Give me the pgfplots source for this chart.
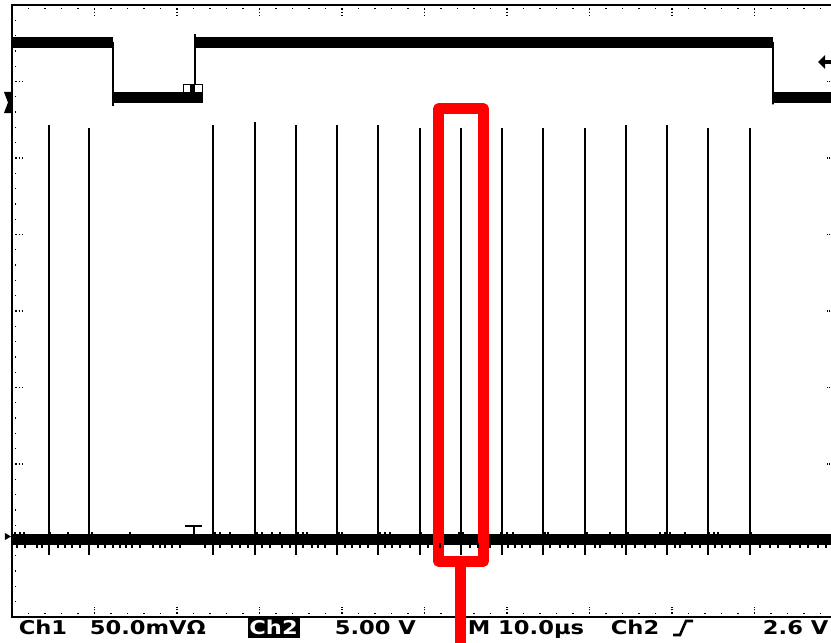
\documentclass[border=0pt]{standalone}
\usepackage{pgfplots}
\pgfplotsset{compat=1.18}
\usepackage{pgfplotstable}
\usepackage{graphicx}
\usepackage{fontspec}
\setmainfont{DejaVu Sans}
\definecolor{scopeRed}{RGB}{255,0,0}
\newcommand\scopefont{\fontsize{19}{22}\selectfont\bfseries}
\newcommand\scopetext[1]{\scalebox{1.19}[1]{\scopefont #1}}

% time in us (10 us/div), vertical in divisions (8 div screen)
% Ch2 logic levels, one row per level change
\pgfplotstableread{
t v
0 7.51
12.24 6.79
22.18 7.51
92.24 6.79
100 6.79
}\chtwo

% Ch2 edges with their small overshoots
\pgfplotstableread{
t v
0 7.51
12.24 7.51
12.24 6.68
12.24 6.79
22.18 6.79
22.18 7.62
22.18 7.51
92.24 7.51
92.24 6.70
92.24 6.79
100 6.79
}\chtwoedges

% Ch1 spikes: time and top
\pgfplotstableread{
t top
4.48 6.43
9.33 6.39
24.36 6.43
29.45 6.47
34.42 6.43
39.39 6.43
44.36 6.43
49.45 6.39
54.42 6.39
59.39 6.39
64.36 6.39
69.45 6.39
74.42 6.43
79.39 6.43
84.36 6.39
89.45 6.39
}\spikes

% noise on the Ch1 trace, screen pixels
\pgfplotstableread{
px
15
20
24
50
68
92
130
215
220
230
257
262
272
280
298
303
307
339
342
380
385
390
421
459
463
501
507
513
545
548
587
610
628
660
665
670
685
709
714
718
751
}\noiseup

\pgfplotstableread{
px
17
25
37
42
58
65
72
80
98
105
113
120
126
132
140
153
160
165
172
180
205
220
232
240
248
262
270
282
290
303
312
318
325
345
352
360
368
385
392
400
410
428
440
470
478
490
508
515
522
530
550
560
568
575
595
600
615
622
635
645
655
675
680
692
700
715
722
730
740
760
770
778
790
800
808
818
826
}\noisedown

\begin{document}
\begin{tikzpicture}
\begin{axis}[
  x=8.25pt, y=76.5pt,
  xmin=0, xmax=100, ymin=0, ymax=8,
  axis line style={line width=1.8pt},
  xtick={0,10,...,100}, ytick={0,1,...,8},
  minor x tick num=4, minor y tick num=4,
  tick align=inside,
  major tick length=10pt, minor tick length=4.5pt,
  tick style={black, line width=1.3pt, dotted},
  xticklabels={}, yticklabels={},
  clip=false,
]
  \coordinate (bl) at (axis cs:-1.4545,-0.3268);
  \coordinate (tr) at (axis cs:99.2727,8.0654);

  % Ch1
  \addplot[black, line width=11pt, line cap=butt] coordinates {(0,1.007) (100,1.007)};
  \addplot[only marks, mark=none, forget plot,
    error bars/.cd, y dir=both, y explicit, error mark=none,
    error bar style={draw=black, solid, line width=1.8pt}]
    table[x=t, y expr=1.007, y error plus expr=\thisrow{top}-1.007, y error minus expr=0.19]{\spikes};
  \addplot[only marks, black, mark=|, mark size=2.5pt, line width=1.4pt]
    table[x index=0, y index=0, x expr={(\thisrow{px}-12)/8.25}, y expr=1.072]{\noiseup};
  \addplot[only marks, black, mark=|, mark size=2.5pt, line width=1.4pt]
    table[x index=0, y index=0, x expr={(\thisrow{px}-12)/8.25}, y expr=0.935]{\noisedown};

  % Ch2
  \addplot[black, line width=11.5pt, line cap=butt, jump mark left] table[x=t, y=v]{\chtwo};
  \addplot[black, line width=1.8pt] table[x=t, y=v]{\chtwoedges};

  % trigger markers
  \draw[black, line width=1pt, fill=white] (axis cs:20.73,6.967) rectangle (axis cs:23.15,6.719);
  \fill[black] (axis cs:20.73,6.863) rectangle (axis cs:23.15,6.719);
  \fill[black] (axis cs:21.58,6.967) rectangle (axis cs:22.18,6.863);
  \draw[black, line width=2pt] (axis cs:20.97,1.190) -- (axis cs:23.03,1.190);
  \draw[black, line width=2pt] (axis cs:22.0,1.190) -- (axis cs:22.0,1.07);

  % channel ground markers and trigger level
  \fill[black] (axis cs:-0.97,6.863) -- (axis cs:0,6.863) -- (axis cs:0,6.588)
    -- (axis cs:-0.97,6.588) -- (axis cs:-0.485,6.725) -- cycle;
  \fill[black] (axis cs:-0.85,1.098) -- (axis cs:-0.12,1.052) -- (axis cs:-0.85,1.007) -- cycle;
  \fill[black] (axis cs:97.70,7.255) -- (axis cs:98.55,7.346) -- (axis cs:98.55,7.163) -- cycle;
  \draw[black, line width=4pt] (axis cs:98.4,7.255) -- (axis cs:99.5,7.255);

  % readout
  \node[anchor=base west, inner sep=0] at (axis cs:0.80,-0.2288) {\scopetext{Ch1}};
  \node[anchor=base west, inner sep=0] at (axis cs:9.41,-0.2288) {\scopetext{50.0mVΩ}};
  \fill[black] (axis cs:28.61,-0.013) rectangle (axis cs:34.91,-0.275);
  \node[anchor=base west, inner sep=0, text=white] at (axis cs:28.75,-0.2288) {\scopetext{Ch2}};
  \node[anchor=base west, inner sep=0] at (axis cs:39.10,-0.2288) {\scopetext{5.00 V}};
  \node[anchor=base west, inner sep=0] at (axis cs:55.23,-0.2288) {\scopetext{M 10.0µs}};
  \node[anchor=base west, inner sep=0] at (axis cs:72.56,-0.2288) {\scopetext{Ch2}};
  \draw[black, line width=2.6pt] (axis cs:80.12,-0.235) -- (axis cs:80.97,-0.235)
    -- (axis cs:81.70,-0.052) -- (axis cs:82.55,-0.052);
  \node[anchor=base west, inner sep=0] at (axis cs:91.0,-0.2288) {\scopetext{2.6 V}};

  % red callout
  \draw[scopeRed, line width=11pt, line join=round] (axis cs:51.70,0.732) rectangle (axis cs:57.15,6.641);
  \draw[scopeRed, line width=11pt] (axis cs:54.36,0.732) -- (axis cs:54.36,-0.5);
\end{axis}
\pgfresetboundingbox
\path[use as bounding box] (bl) rectangle (tr);
\end{tikzpicture}
\end{document}
